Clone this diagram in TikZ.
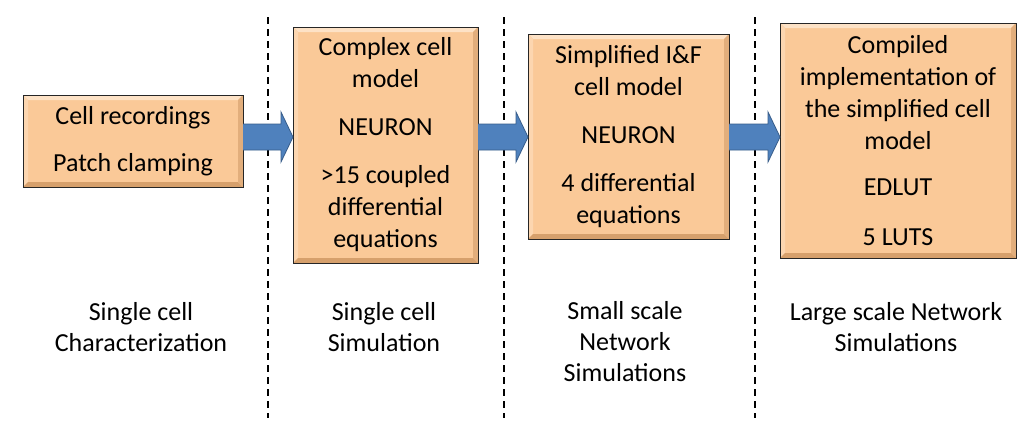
\documentclass[tikz,border=0pt]{standalone}
\usepackage{fontspec}
\setmainfont{Carlito}
\usetikzlibrary{calc}
\definecolor{boxfill}{RGB}{250,201,152}
\definecolor{bevlight}{RGB}{253,226,198}
\definecolor{bevlight2}{RGB}{252,214,176}
\definecolor{bevdark}{RGB}{214,160,108}
\definecolor{bevdark2}{RGB}{226,174,124}
\definecolor{arrowfill}{RGB}{79,129,189}
\definecolor{arrowline}{RGB}{56,93,138}
\tikzset{
  stagebox/.style={rectangle, fill=boxfill, inner sep=0pt, outer sep=0pt, align=center,
    font=\fontsize{26}{32}\selectfont},
  boxline/.style={draw=black!85, line width=0.9pt},
  stagelabel/.style={align=center, font=\fontsize{26}{31}\selectfont},
  divider/.style={line width=1.5pt, dash pattern=on 7pt off 5pt},
  blockfill/.style={fill=arrowfill},
  blockline/.style={draw=arrowline, line width=0.8pt},
}
\newcommand{\bevelit}[1]{%
  \fill[bevlight] (#1.north west) -- (#1.north east) -- ($(#1.north east)+(-5pt,-5pt)$) -- ($(#1.north west)+(5pt,-5pt)$) -- cycle;
  \fill[bevlight2] (#1.north west) -- ($(#1.north west)+(5pt,-5pt)$) -- ($(#1.south west)+(5pt,5pt)$) -- (#1.south west) -- cycle;
  \fill[bevdark] (#1.south west) -- ($(#1.south west)+(5pt,5pt)$) -- ($(#1.south east)+(-5pt,5pt)$) -- (#1.south east) -- cycle;
  \fill[bevdark2] (#1.south east) -- ($(#1.south east)+(-5pt,5pt)$) -- ($(#1.north east)+(-5pt,-5pt)$) -- (#1.north east) -- cycle;
  \draw[boxline] (#1.north west) rectangle (#1.south east);
}
\newcommand{\blockarrow}[2]{%
  \path let \p1=(#1.east), \p2=(#2.west) in
    coordinate (a1) at (\x1,-124pt) coordinate (a2) at (\x2-12pt,-124pt)
    coordinate (a3) at (\x2-12pt,-112pt) coordinate (a4) at (\x2,-137pt)
    coordinate (a5) at (\x2-12pt,-162pt) coordinate (a6) at (\x2-12pt,-150pt)
    coordinate (a7) at (\x1,-150pt);
  \fill[blockfill] (a1) -- (a2) -- (a3) -- (a4) -- (a5) -- (a6) -- (a7) -- cycle;
  \draw[blockline] (a1) -- (a2) -- (a3) -- (a4) -- (a5) -- (a6) -- (a7);
}
\begin{document}
\begin{tikzpicture}[x=1pt,y=1pt]
\useasboundingbox[fill=white] (0,0) rectangle (1035,-437);
% dividers
\foreach \xx/\nm in {268/d1,504/d2,755/d3}{
  \coordinate (\nm t) at (\xx,-17);
  \coordinate (\nm b) at (\xx,-418);
  \draw[divider] (\nm t) -- (\nm b);
}
% boxes
\node[stagebox, minimum width=220pt, minimum height=92pt] (b1) at (133,-141)
  {Cell recordings\\[15pt]Patch clamping};
\node[stagebox, minimum width=185pt, minimum height=236pt] (b2) at (385.5,-145)
  {Complex cell\\model\\[16pt]NEURON\\[16pt]{>}15 coupled\\differential\\equations};
\node[stagebox, minimum width=201pt, minimum height=205pt] (b3) at (628.5,-136.5)
  {Simplified I\&F\\cell model\\[16pt]NEURON\\[16pt]4 differential\\equations};
\node[stagebox, minimum width=236pt, minimum height=235pt] (b4) at (898,-140.5)
  {Compiled\\implementation of\\the simplified cell\\model\\[14pt]EDLUT\\[18pt]5 LUTS};
\bevelit{b1}\bevelit{b2}\bevelit{b3}\bevelit{b4}
% redraw texts above bevel (texts are inside, bevel only on edges)
\blockarrow{b1}{b2}
\blockarrow{b2}{b3}
\blockarrow{b3}{b4}
% labels
\node[stagelabel] (l1) at (141,-327) {Single cell\\Characterization};
\node[stagelabel] (l2) at (384,-327) {Single cell\\Simulation};
\node[stagelabel] (l3) at (625,-342) {Small scale\\Network\\Simulations};
\node[stagelabel] (l4) at (896,-327) {Large scale Network\\Simulations};
\end{tikzpicture}
\end{document}
